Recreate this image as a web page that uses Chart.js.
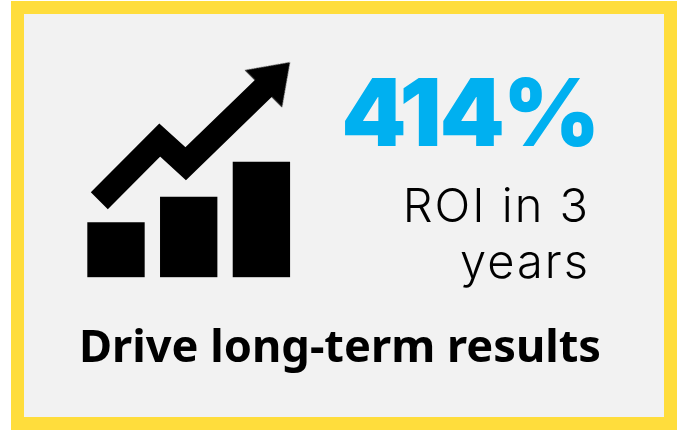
<!DOCTYPE html>
<html>
<head>
<meta charset="utf-8">
<script src="https://cdn.jsdelivr.net/npm/chart.js@4"></script>
<style>
  html, body { margin: 0; padding: 0; background: #fff; }
  body { width: 678px; height: 430px; position: relative; overflow: hidden; }
  #frame { position: absolute; left: 11px; top: 1px; width: 640px; height: 403px;
           border: 13px solid #FFDD3C; background: #F2F2F2; }
  #icon { position: absolute; left: 0; top: 0; }
  .txt { position: absolute; white-space: nowrap; }
  #big { right: 80px; top: 66px; font: 900 93px/1 Inter, sans-serif; letter-spacing: -2px; color: #00B0F0; }
  #sub { right: 88px; top: 177px; text-align: right; font: 300 47px/56px Inter, sans-serif; letter-spacing: 2px; color: #000; }
  #foot { left: 0; width: 680px; top: 315px; text-align: center; font: 700 45.2px/60px "Noto Sans", sans-serif; color: #000; }
</style>
</head>
<body>
<div id="frame"></div>
<canvas id="icon" width="678" height="430"></canvas>
<div class="txt" id="big">414%</div>
<div class="txt" id="sub">ROI in 3<br>years</div>
<div class="txt" id="foot">Drive long-term results</div>
<script>
const bar_x = [36.5, 109.2, 181.9];
const bar_values = [54.6, 80.3, 115.3];
const trend_x = [19.8, 80.2, 106.2, 197.2];
const trend_y = [76.6, 137.3, 113.6, 201.8];

// arrow head, drawn once and used as the point style of the last point
function make_head(){
    const c = document.createElement('canvas');
    c.width = 60;
    c.height = 60;
    const g = c.getContext('2d');
    g.fillStyle = '#000';
    g.beginPath();
    g.moveTo(30, 11.3);
    g.lineTo(56.3, 48.7);
    g.lineTo(3.7, 48.7);
    g.closePath();
    g.fill();
    return c;
}
const head = make_head();
const last = trend_x.length - 1;

new Chart(document.getElementById('icon'), {
    type: 'bar',
    data: {
        datasets: [{
            data: bar_x.map((x, i) => ({x: x, y: bar_values[i]})),
            backgroundColor: '#000',
            barThickness: 56.7
        }, {
            type: 'line',
            data: trend_x.map((x, i) => ({x: x, y: trend_y[i]})),
            borderColor: '#000',
            borderWidth: 24,
            borderJoinStyle: 'miter',
            borderCapStyle: 'butt',
            tension: 0,
            fill: false,
            clip: false,
            pointRadius: ctx => ctx.dataIndex === last ? 30 : 0,
            pointStyle: ctx => ctx.dataIndex === last ? head : 'circle',
            pointRotation: 45,
            pointBorderWidth: 0
        }]
    },
    options: {
        responsive: false,
        animation: false,
        layout: { padding: { left: 79.5, right: 380.2, top: 57.3, bottom: 152.7 } },
        plugins: { legend: { display: false }, tooltip: { enabled: false } },
        scales: {
            x: { type: 'linear', display: false, offset: false, min: 0, max: 218.3 },
            y: { display: false, min: 0, max: 220 }
        }
    }
});
</script>
</body>
</html>
